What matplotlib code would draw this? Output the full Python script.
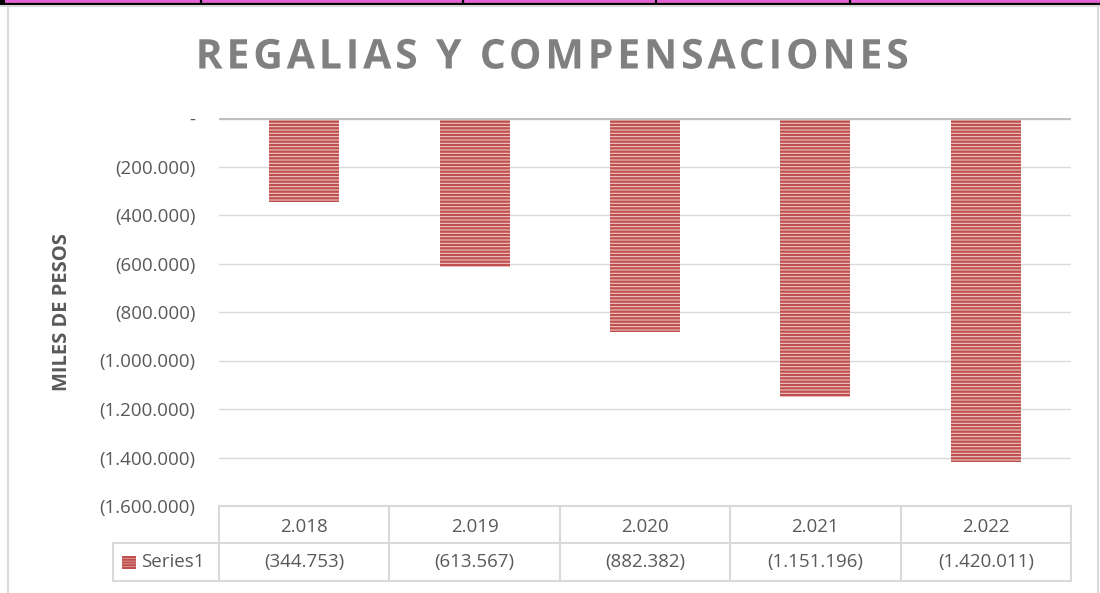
import matplotlib
matplotlib.use("Agg")
import matplotlib.pyplot as plt
from matplotlib.patches import Rectangle
from matplotlib.lines import Line2D
from matplotlib.path import Path
from matplotlib.patheffects import AbstractPathEffect
from matplotlib.transforms import blended_transform_factory, IdentityTransform
import numpy as np

# ---- data ----
years = ["2.018", "2.019", "2.020", "2.021", "2.022"]
values = [-344753, -613567, -882382, -1151196, -1420011]
series_name = "Series1"
title = "REGALIAS Y COMPENSACIONES"
y_label = "MILES DE PESOS"

W, H = 1100, 593
TEXT = "#595959"
RED = "#C0504D"
BAR_BG = "#EFCDCC"
GRID = "#D9D9D9"
FONT = "Open Sans"
FS = 13.5

plt.rcParams["font.family"] = [FONT, "DejaVu Sans"]
plt.rcParams["hatch.linewidth"] = 1.65


class Tracking(AbstractPathEffect):
    """Adds extra spacing (in pixels) between the glyphs of a text path."""

    def __init__(self, spacing, space_gap=10):
        super().__init__()
        self.spacing = spacing
        self.space_gap = space_gap

    def draw_path(self, renderer, gc, tpath, affine, rgbFace=None):
        path = affine.transform_path(tpath)
        verts = np.array(path.vertices, dtype=float)
        codes = path.codes
        if codes is None or len(codes) == 0:
            renderer.draw_path(gc, tpath, affine, rgbFace)
            return
        starts = np.where(codes == Path.MOVETO)[0]
        ends = list(starts[1:]) + [len(codes)]
        contours = []
        for s, e in zip(starts, ends):
            mask = codes[s:e] != Path.CLOSEPOLY
            xs = verts[s:e][mask, 0]
            if len(xs):
                contours.append((xs.min(), xs.max(), s, e))
        contours.sort(key=lambda c: c[0])
        groups = []
        for c in contours:
            if groups and c[0] < groups[-1]["xmax"] - 0.5:
                groups[-1]["xmax"] = max(groups[-1]["xmax"], c[1])
                groups[-1]["items"].append(c)
            else:
                groups.append({"xmin": c[0], "xmax": c[1], "items": [c]})
        shift, shifts = 0.0, []
        for i, g in enumerate(groups):
            if i > 0:
                shift += self.spacing
                if g["xmin"] - groups[i - 1]["xmax"] > self.space_gap:
                    shift += self.spacing
            shifts.append(shift)
        total = shifts[-1] if shifts else 0.0
        for g, sh in zip(groups, shifts):
            for (_, _, s, e) in g["items"]:
                verts[s:e, 0] += sh - total / 2
        renderer.draw_path(gc, Path(verts, codes), IdentityTransform(), rgbFace)


fig = plt.figure(figsize=(W / 100, H / 100), dpi=100)


def fx(px):
    return px / W


def fy(py):
    return 1 - py / H


# ---- page decoration: header cells and chart frame ----
fig.add_artist(Rectangle((0, fy(4)), 1, 4 / H, transform=fig.transFigure,
                         facecolor="#E463D7", edgecolor="none"))
fig.add_artist(Line2D([0, 1], [fy(4), fy(4)], transform=fig.transFigure,
                      color="black", lw=1.6))
fig.add_artist(Line2D([0, fx(3)], [fy(2), fy(2)], transform=fig.transFigure,
                      color="black", lw=3))
for xd in [201, 463, 656, 850]:
    fig.add_artist(Line2D([fx(xd), fx(xd)], [1, fy(4)], transform=fig.transFigure,
                          color="black", lw=1.6))
fig.add_artist(Line2D([0, 1], [fy(5.5), fy(5.5)], transform=fig.transFigure,
                      color=GRID, lw=1.5))
fig.add_artist(Line2D([fx(8), fx(8)], [fy(6), 0], transform=fig.transFigure,
                      color=GRID, lw=1.5))
fig.add_artist(Line2D([fx(1098), fx(1098)], [fy(6), 0], transform=fig.transFigure,
                      color=GRID, lw=1.5))

# ---- plot area ----
left, right, top, bottom = 219, 1071, 118, 506
ax = fig.add_axes([fx(left), fy(bottom), (right - left) / W, (bottom - top) / H])
ax.set_xlim(-0.5, len(years) - 0.5)
ax.set_ylim(-1600000, 0)

x = np.arange(len(years))
ax.bar(x, values, width=0.41, color=BAR_BG, edgecolor=RED, hatch="-----",
       linewidth=0, zorder=2)

yticks = np.arange(-1600000, 1, 200000)


def fmt(v):
    if v == 0:
        return "-"
    return "(" + f"{int(abs(v)):,}".replace(",", ".") + ")"


ax.set_yticks(yticks)
ax.set_yticklabels([fmt(v) for v in yticks])
ax.tick_params(axis="y", length=0, pad=17, labelsize=FS, labelcolor=TEXT)
ax.set_xticks([])
ax.grid(axis="y", color=GRID, lw=1.0, zorder=0)
ax.set_axisbelow(True)
ax.axhline(0, color="#BFBFBF", lw=2.4, zorder=3)
for s in ax.spines.values():
    s.set_visible(False)

# ---- data table under the plot ----
tr = blended_transform_factory(ax.transData, ax.transAxes)
ph = bottom - top
row1 = -37 / ph
row2 = -75 / ph
col_w = (right - left) / len(years)
leg_left = -0.5 - (left - 113) / col_w
xb = np.arange(len(years) + 1) - 0.5
line_kw = dict(color=GRID, lw=1.5, transform=tr, clip_on=False)

# horizontal rules
ax.add_line(Line2D([xb[0], xb[-1]], [0, 0], **line_kw))
ax.add_line(Line2D([leg_left, xb[-1]], [row1, row1], **line_kw))
ax.add_line(Line2D([leg_left, xb[-1]], [row2, row2], **line_kw))
# vertical rules
for xv in xb:
    ax.add_line(Line2D([xv, xv], [0, row2], **line_kw))
ax.add_line(Line2D([leg_left, leg_left], [row1, row2], **line_kw))

for i, (yr, v) in enumerate(zip(years, values)):
    ax.text(i, row1 / 2 - 2 / ph, yr, transform=tr, ha="center", va="center",
            fontsize=FS, color=TEXT, clip_on=False)
    ax.text(i, (row1 + row2) / 2, fmt(v), transform=tr, ha="center",
            va="center", fontsize=FS, color=TEXT, clip_on=False)

# legend key and series name
key_x0 = leg_left + 9 / col_w
key_w = 14 / col_w
key_h = 13 / ph
ymid = (row1 + row2) / 2
ax.add_patch(Rectangle((key_x0, ymid - key_h / 2), key_w, key_h, transform=tr,
                       facecolor=BAR_BG, edgecolor=RED, hatch="------",
                       linewidth=0, clip_on=False))
ax.text(key_x0 + key_w + 5 / col_w, ymid, series_name, transform=tr,
        ha="left", va="center", fontsize=FS, color=TEXT, clip_on=False)

# ---- titles ----
fig.text(fx(552), fy(58), title, ha="center", va="center", fontsize=29.5,
         fontweight="bold", color="#808080",
         path_effects=[Tracking(3.8, space_gap=10)])
fig.text(fx(62), fy(312), y_label, ha="center", va="center", rotation=90,
         fontsize=14.5, fontweight="bold", color=TEXT)

fig.savefig("out.png", dpi=100)
